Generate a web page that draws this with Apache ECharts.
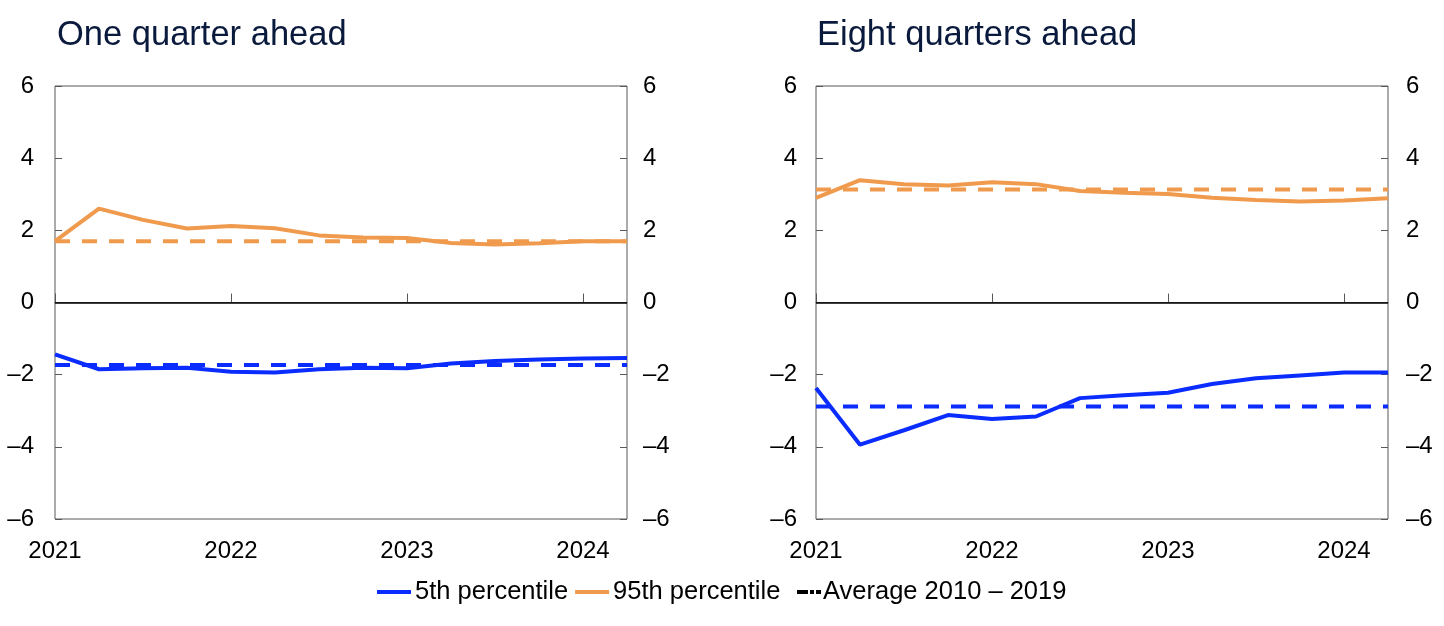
<!DOCTYPE html>
<html><head><meta charset="utf-8">
<script src="https://cdn.jsdelivr.net/npm/echarts@6/dist/echarts.min.js"></script>
<style>html,body{margin:0;padding:0;background:#fff}#c{width:1444px;height:626px}</style>
</head><body><div id="c"></div>
<script>
const quarters = ['2021 Q1','2021 Q2','2021 Q3','2021 Q4','2022 Q1','2022 Q2','2022 Q3','2022 Q4','2023 Q1','2023 Q2','2023 Q3','2023 Q4','2024 Q1','2024 Q2'];
const yTicks = [-6, -4, -2, 0, 2, 4, 6];

// One quarter ahead
const oneP5  = [-1.44,-1.85,-1.82,-1.81,-1.92,-1.94,-1.85,-1.81,-1.82,-1.69,-1.62,-1.58,-1.55,-1.54];
const oneP95 = [1.70,2.60,2.29,2.05,2.12,2.06,1.86,1.80,1.79,1.65,1.61,1.64,1.70,1.70];
const oneAvgLow  = [-1.73,-1.73,-1.73,-1.73,-1.73,-1.73,-1.73,-1.73,-1.73,-1.73,-1.73,-1.73,-1.73,-1.73];
const oneAvgHigh = [1.70,1.70,1.70,1.70,1.70,1.70,1.70,1.70,1.70,1.70,1.70,1.70,1.70,1.70];

// Eight quarters ahead
const eightP5  = [-2.37,-3.94,-3.54,-3.12,-3.23,-3.16,-2.65,-2.57,-2.50,-2.26,-2.10,-2.02,-1.94,-1.94];
const eightP95 = [2.90,3.39,3.28,3.24,3.33,3.28,3.09,3.04,3.01,2.90,2.84,2.80,2.83,2.89];
const eightAvgLow  = [-2.88,-2.88,-2.88,-2.88,-2.88,-2.88,-2.88,-2.88,-2.88,-2.88,-2.88,-2.88,-2.88,-2.88];
const eightAvgHigh = [3.13,3.13,3.13,3.13,3.13,3.13,3.13,3.13,3.13,3.13,3.13,3.13,3.13,3.13];

const NAME_P5 = '5th percentile', NAME_P95 = '95th percentile', NAME_AVG = 'Average 2010 – 2019';
const BLUE = '#0a2cff', ORANGE = '#f09a4e', FRAME = '#595959';
const FONT = '"Liberation Sans", Arial, sans-serif';

const chart = echarts.init(document.getElementById('c'), null, {renderer: 'canvas'});

function yAx(gi, pos, margin) {
  return {
    type: 'value', gridIndex: gi, position: pos,
    min: yTicks[0], max: yTicks[yTicks.length - 1], interval: 2,
    axisLine: {show: false},
    axisTick: {show: true, inside: true, length: 7, lineStyle: {color: FRAME, width: 1}},
    splitLine: {show: false},
    axisLabel: {fontSize: 24, color: '#000', fontFamily: FONT, margin: margin,
      formatter: v => v < 0 ? '\u2013' + Math.abs(v) : String(v)}
  };
}
function xAx(gi) {
  return {
    type: 'category', gridIndex: gi, data: quarters, boundaryGap: false,
    axisLine: {show: true, lineStyle: {color: FRAME, width: 1}},
    axisTick: {show: true, inside: true, length: 9, interval: 3, lineStyle: {color: FRAME}},
    axisLabel: {interval: 3, fontSize: 24, color: '#000', fontFamily: FONT, margin: 20,
      formatter: v => v.slice(0, 4)},
    splitLine: {show: false}
  };
}
function solid(name, data, color, gi) {
  return {type: 'line', name, data, xAxisIndex: gi, yAxisIndex: gi * 2, symbol: 'none', showSymbol: false,
    lineStyle: {color, width: 4}, itemStyle: {color}, z: 3};
}
function dashed(data, color, gi) {
  return {type: 'line', name: NAME_AVG, data, xAxisIndex: gi, yAxisIndex: gi * 2, symbol: 'none', showSymbol: false,
    lineStyle: {color, width: 4, type: [15, 12]}, itemStyle: {color}, z: 4};
}
function zeroLine(gi) {
  return {type: 'line', data: [], xAxisIndex: gi, yAxisIndex: gi * 2, silent: true,
    markLine: {silent: true, symbol: 'none', animation: false, label: {show: false},
      lineStyle: {color: '#000', width: 1.5, type: 'solid'}, data: [{yAxis: 0}]}, z: 2};
}

chart.setOption({
  animation: false,
  backgroundColor: '#fff',
  title: [
    {text: 'One quarter ahead', left: 52, top: 13, textStyle: {fontSize: 34.5, fontWeight: 'normal', color: '#0a1a3c', fontFamily: FONT}},
    {text: 'Eight quarters ahead', left: 812, top: 13, textStyle: {fontSize: 34.5, fontWeight: 'normal', color: '#0a1a3c', fontFamily: FONT}}
  ],
  grid: [
    {left: 55, right: 1444 - 627, top: 86, height: 433, show: true, borderColor: FRAME, borderWidth: 1, containLabel: false},
    {left: 816, right: 1444 - 1388, top: 86, height: 433, show: true, borderColor: FRAME, borderWidth: 1, containLabel: false}
  ],
  xAxis: [xAx(0), xAx(1)],
  yAxis: [yAx(0, 'left', 21), yAx(0, 'right', 16), yAx(1, 'left', 19), yAx(1, 'right', 18)],
  legend: [
    {left: 377, top: 579, padding: 0, itemWidth: 34, itemHeight: 4, itemGap: 7, selectedMode: false,
      textStyle: {fontSize: 25.5, color: '#000', fontFamily: FONT, padding: [0, 0, 0, -1]},
      data: [
        {name: NAME_P5, icon: 'rect', itemStyle: {color: BLUE}},
        {name: NAME_P95, icon: 'rect', itemStyle: {color: ORANGE}}
      ]},
    {left: 797, top: 579, padding: 0, itemWidth: 24, itemHeight: 4, selectedMode: false,
      textStyle: {fontSize: 25.5, color: '#000', fontFamily: FONT, padding: [0, 0, 0, -3]},
      data: [{name: NAME_AVG, icon: 'path://M0,0H11V4H0Z M13,0H17V4H13Z M19,0H24V4H19Z', itemStyle: {color: '#000'}}]}
  ],
  series: [
    zeroLine(0), zeroLine(1),
    solid(NAME_P5, oneP5, BLUE, 0), solid(NAME_P95, oneP95, ORANGE, 0),
    dashed(oneAvgLow, BLUE, 0), dashed(oneAvgHigh, ORANGE, 0),
    solid(NAME_P5, eightP5, BLUE, 1), solid(NAME_P95, eightP95, ORANGE, 1),
    dashed(eightAvgLow, BLUE, 1), dashed(eightAvgHigh, ORANGE, 1)
  ]
});
</script></body></html>
